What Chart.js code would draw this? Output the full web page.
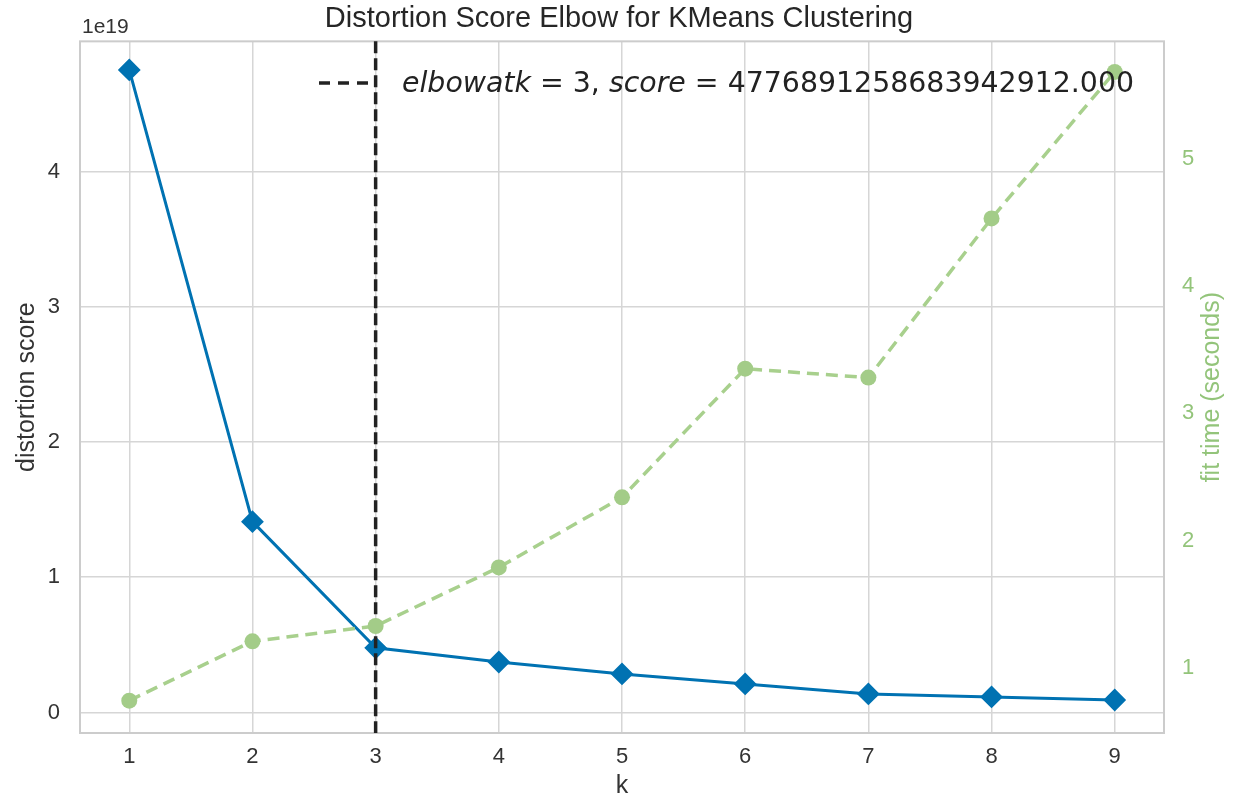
<!DOCTYPE html>
<html>
<head>
<meta charset="utf-8">
<title>Distortion Score Elbow for KMeans Clustering</title>
<script src="https://cdn.jsdelivr.net/npm/chart.js@4.4.1/dist/chart.umd.min.js"></script>
<style>
  html, body { margin: 0; padding: 0; background: #fff; }
  #wrap { width: 1238px; height: 799px; }
</style>
</head>
<body>
<div id="wrap"><canvas id="elbowChart" width="1238" height="799"></canvas></div>
<script>
// 数据
const kValues = [1, 2, 3, 4, 5, 6, 7, 8, 9];
const distortionScores = [4.752e19, 1.411e19, 4776891258683942912, 3.73e18, 2.85e18, 2.11e18, 1.37e18, 1.15e18, 9.2e17];
const fitTimes = [0.744, 1.21, 1.33, 1.79, 2.34, 3.35, 3.28, 4.53, 5.68];
const distortionTicks = [0, 1, 2, 3, 4]; // x 1e19
const fitTimeTicks = [1, 2, 3, 4, 5];
const elbowK = 3;
const elbowScore = '4776891258683942912.000';

const BLUE = '#0072b2';
const GREEN = '#a8d08d';
const GREEN_TEXT = '#93c47a';
const TEXT = '#333333';
const GRID = '#d6d6d6';

// 边框、肘部竖线、图例和右侧轴标题
const extras = {
    id: 'elbowExtras',
    beforeDatasetsDraw(chart) {
        const a = chart.chartArea;
        const ctx = chart.ctx;
        ctx.save();
        ctx.strokeStyle = '#cccccc';
        ctx.lineWidth = 2;
        ctx.strokeRect(a.left, a.top, a.right - a.left, a.bottom - a.top);
        ctx.restore();
    },
    afterDatasetDraw(chart, args) {
        if (args.index !== 0) return;
        const a = chart.chartArea;
        const ctx = chart.ctx;
        const x = chart.scales.x.getPixelForValue(elbowK);
        ctx.save();
        ctx.strokeStyle = '#222222';
        ctx.lineWidth = 3.5;
        ctx.setLineDash([12, 5]);
        ctx.beginPath();
        ctx.moveTo(x, a.top);
        ctx.lineTo(x, a.bottom);
        ctx.stroke();
        ctx.restore();
    },
    afterDraw(chart) {
        const ctx = chart.ctx;
        const a = chart.chartArea;
        ctx.save();

        // 图例
        const ly = 83;
        ctx.strokeStyle = '#222222';
        ctx.lineWidth = 3.5;
        ctx.setLineDash([11, 8]);
        ctx.beginPath();
        ctx.moveTo(319, ly);
        ctx.lineTo(377, ly);
        ctx.stroke();
        ctx.setLineDash([]);

        const parts = [
            { t: 'elbowatk', it: true },
            { t: ' = ' + elbowK + ', ', it: false },
            { t: 'score', it: true },
            { t: ' = ' + elbowScore, it: false }
        ];
        let x = 402;
        ctx.fillStyle = '#222222';
        ctx.textBaseline = 'middle';
        ctx.textAlign = 'left';
        parts.forEach(p => {
            ctx.font = (p.it ? 'oblique ' : '') + '28.4px "DejaVu Sans"';
            ctx.fillText(p.t, x, ly + 2);
            x += ctx.measureText(p.t).width;
        });

        // 1e19
        ctx.font = '21px "Liberation Sans"';
        ctx.fillStyle = TEXT;
        ctx.fillText('1e19', a.left + 2, 27);

        // 右侧轴标题
        ctx.translate(1212, (a.top + a.bottom) / 2);
        ctx.rotate(-Math.PI / 2);
        ctx.textAlign = 'center';
        ctx.font = '25px "Liberation Sans"';
        ctx.fillStyle = GREEN_TEXT;
        ctx.fillText('fit time (seconds)', 0, 0);
        ctx.restore();
    }
};

document.addEventListener('DOMContentLoaded', function() {
    const ctx = document.getElementById('elbowChart').getContext('2d');
    new Chart(ctx, {
        type: 'line',
        data: {
            datasets: [{
                label: 'distortion score',
                data: kValues.map((k, i) => ({ x: k, y: distortionScores[i] })),
                yAxisID: 'y',
                order: 1,
                borderColor: BLUE,
                backgroundColor: BLUE,
                borderWidth: 3,
                pointStyle: 'rectRot',
                pointRadius: 10,
                pointBorderWidth: 2,
                pointBorderColor: BLUE,
                pointBackgroundColor: BLUE,
                tension: 0
            }, {
                label: 'fit time',
                data: kValues.map((k, i) => ({ x: k, y: fitTimes[i] })),
                yAxisID: 'y1',
                order: 0,
                borderColor: GREEN,
                backgroundColor: GREEN,
                borderWidth: 3.5,
                borderDash: [12, 7],
                pointStyle: 'circle',
                pointRadius: 8,
                pointBorderWidth: 0,
                pointBackgroundColor: '#a3cc88',
                tension: 0
            }]
        },
        options: {
            responsive: false,
            animation: false,
            devicePixelRatio: 1,
            layout: { padding: 0 },
            plugins: {
                legend: { display: false },
                tooltip: { enabled: false },
                title: {
                    display: true,
                    text: 'Distortion Score Elbow for KMeans Clustering',
                    color: '#262626',
                    font: { family: 'Liberation Sans', size: 29, weight: 'normal', lineHeight: 1.15 },
                    padding: { top: 2, bottom: 6 }
                }
            },
            scales: {
                x: {
                    type: 'linear',
                    min: 0.6,
                    max: 9.4,
                    afterBuildTicks: s => { s.ticks = kValues.map(v => ({ value: v })); },
                    afterFit: s => { s.height = 66; },
                    grid: { color: GRID, lineWidth: 1.5, drawTicks: false },
                    border: { display: false },
                    ticks: {
                        color: TEXT,
                        padding: 11,
                        font: { family: 'Liberation Sans', size: 22 },
                        callback: v => String(v)
                    },
                    title: {
                        display: true,
                        text: 'k',
                        color: TEXT,
                        font: { family: 'Liberation Sans', size: 25, lineHeight: 1 },
                        padding: 0
                    }
                },
                y: {
                    position: 'left',
                    min: -0.152e19,
                    max: 4.963e19,
                    afterBuildTicks: s => { s.ticks = distortionTicks.map(v => ({ value: v * 1e19 })); },
                    afterFit: s => { s.width = 80; },
                    grid: { color: GRID, lineWidth: 1.5, drawTicks: false },
                    border: { display: false },
                    ticks: {
                        color: TEXT,
                        padding: 20,
                        font: { family: 'Liberation Sans', size: 22 },
                        callback: v => String(Math.round(v / 1e19))
                    },
                    title: {
                        display: true,
                        text: 'distortion score',
                        color: TEXT,
                        font: { family: 'Liberation Sans', size: 25 },
                        padding: { top: 12 }
                    }
                },
                y1: {
                    position: 'right',
                    min: 0.49,
                    max: 5.92,
                    afterBuildTicks: s => { s.ticks = fitTimeTicks.map(v => ({ value: v })); },
                    afterFit: s => { s.width = 74; },
                    grid: { drawOnChartArea: false, drawTicks: false },
                    border: { display: false },
                    ticks: {
                        color: GREEN_TEXT,
                        padding: 18,
                        font: { family: 'Liberation Sans', size: 22 },
                        callback: v => String(v)
                    }
                }
            }
        },
        plugins: [extras]
    });
});
</script>
</body>
</html>
